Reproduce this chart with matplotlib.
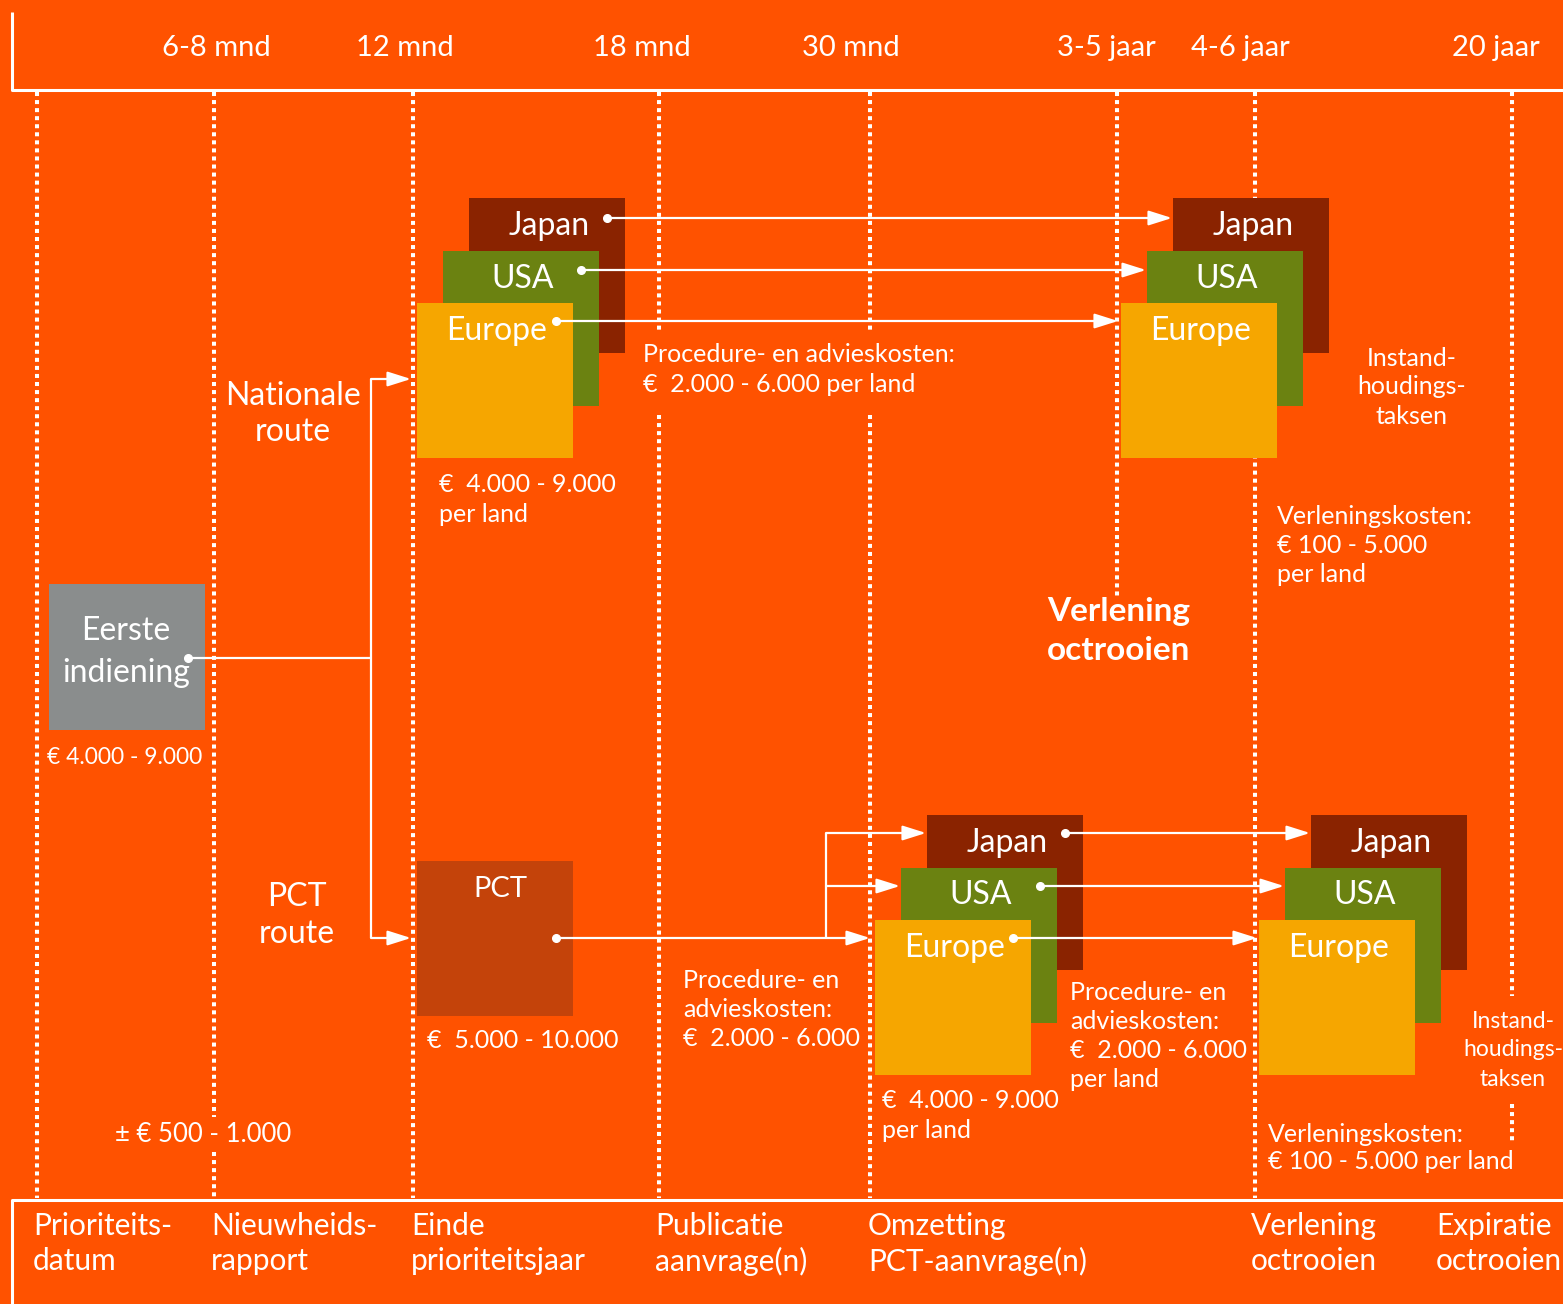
import matplotlib
matplotlib.use("Agg")
import matplotlib.pyplot as plt
from matplotlib.patches import Rectangle

plt.rcParams['font.family'] = ['Lato', 'DejaVu Sans']

# ---- data ----
periods = ["6-8 mnd", "12 mnd", "18 mnd", "30 mnd", "3-5 jaar", "4-6 jaar", "20 jaar"]
milestones = ["Prioriteits-\ndatum", "Nieuwheids-\nrapport", "Einde\nprioriteitsjaar",
              "Publicatie\naanvrage(n)", "Omzetting\nPCT-aanvrage(n)",
              "Verlening\noctrooien", "Expiratie\noctrooien"]
countries = ["Japan", "USA", "Europe"]
routes = ["Nationale\nroute", "PCT\nroute"]
cost_first = "€ 4.000 - 9.000"
cost_search = "± € 500 - 1.000"
cost_nat_filing = "€  4.000 - 9.000\nper land"
cost_nat_proc = "Procedure- en advieskosten:\n€  2.000 - 6.000 per land"
cost_pct_filing = "€  5.000 - 10.000"
cost_pct_proc = "Procedure- en\nadvieskosten:\n€  2.000 - 6.000"
cost_pct_nat = "€  4.000 - 9.000\nper land"
cost_pct_nat_proc = "Procedure- en\nadvieskosten:\n€  2.000 - 6.000\nper land"
cost_grant_nat = "Verleningskosten:\n€ 100 - 5.000\nper land"
cost_grant_pct = "Verleningskosten:\n€ 100 - 5.000 per land"
maint = "Instand-\nhoudings-\ntaksen"

# ---- style ----
BG = '#FF5200'
COL = {"Japan": '#8A2300', "USA": '#6B8211', "Europe": '#F6A600'}
GREY = '#8A8D8D'
PCTC = '#C4430A'
W = 'white'

fig = plt.figure(figsize=(15.63, 13.04), dpi=100, facecolor=BG)
ax = fig.add_axes([0, 0, 1, 1])
ax.set_xlim(0, 1563)
ax.set_ylim(1304, 0)
ax.axis('off')
ax.set_facecolor(BG)


def lines_text(x, y, s, dy, size, ha='left', weight='normal', **kw):
    for i, ln in enumerate(s.split('\n')):
        ax.text(x, y + i * dy, ln, color=W, fontsize=size, ha=ha, va='center',
                fontweight=weight, **kw)


# frames
ax.plot([12, 12, 1563], [12, 90, 90], color=W, lw=2.2, solid_capstyle='butt')
ax.plot([1563, 12, 12], [1200, 1200, 1304], color=W, lw=2.2, solid_capstyle='butt')

# dotted timeline columns (x, list of visible segments)
cols = [
    (37, [(92, 1198)]),
    (214, [(92, 1117), (1152, 1198)]),
    (413, [(92, 1198)]),
    (659, [(92, 330), (415, 1198)]),
    (870, [(92, 330), (415, 1198)]),
    (1117, [(92, 597)]),
    (1255, [(92, 1198)]),
    (1512, [(92, 996), (1104, 1141)]),
]
for x, segs in cols:
    for y0, y1 in segs:
        ax.plot([x, x], [y0, y1], color=W, lw=2.9, linestyle=(0, (1, 1)),
                dash_capstyle='butt', zorder=1)

# period labels on top
period_x = [216, 405, 642, 851, 1106, 1240, 1496]
for x, p in zip(period_x, periods):
    ax.text(x, 48, p, color=W, fontsize=21, ha='center', va='center')

# milestone labels at bottom
mile_x = [33, 211, 411, 655, 868, 1251, 1436]
for x, m in zip(mile_x, milestones):
    lines_text(x, 1226, m, 35, 21.5)

# boxes
def stack(x, y, zorder=3):
    # x, y: top-left of the Europe box; other boxes offset up/right
    for i, c in enumerate(countries):
        k = 2 - i
        bx, by = x + 26 * k, y - 52.5 * k
        ax.add_patch(Rectangle((bx, by), 156, 155, facecolor=COL[c],
                               edgecolor='none', zorder=zorder + i))
        ax.text(bx + 80, by + 28, c, color=W, fontsize=23, ha='center',
                va='center', zorder=zorder + i + 0.5)

stack(417, 303)
stack(1121, 303)
stack(875, 920)
stack(1259, 920)

ax.add_patch(Rectangle((49, 584), 156, 146, facecolor=GREY, edgecolor='none', zorder=3))
lines_text(126, 631, "Eerste\nindiening", 42, 23, ha='center', zorder=4)
ax.add_patch(Rectangle((417, 861), 156, 155, facecolor=PCTC, edgecolor='none', zorder=3))
ax.text(500, 889, "PCT", color=W, fontsize=21, ha='center', va='center', zorder=4)


# connectors
def arrow(x0, y0, x1, y1, dot=True):
    ax.annotate('', xy=(x1, y1), xytext=(x0, y0),
                arrowprops=dict(arrowstyle='-|>,head_length=0.95,head_width=0.3',
                                color=W, lw=1.6, shrinkA=0, shrinkB=0,
                                mutation_scale=15), zorder=8)
    if dot:
        ax.plot(x0, y0, 'o', color=W, ms=5.5, zorder=9)


def seg(xs, ys):
    ax.plot(xs, ys, color=W, lw=1.6, zorder=8, solid_capstyle='butt')


# first filing split
seg([188, 371], [658, 658])
ax.plot(188, 658, 'o', color=W, ms=5.5, zorder=9)
seg([371, 371], [379, 938])
arrow(371, 379, 411, 379, dot=False)
arrow(371, 938, 411, 938, dot=False)

# national route to grant
arrow(607, 218, 1172, 218)
arrow(581, 270, 1146, 270)
arrow(556, 321, 1118, 321)

# PCT route
arrow(556, 938, 870, 938)
seg([826, 826], [833, 938])
arrow(826, 833, 926, 833, dot=False)
arrow(826, 886, 900, 886, dot=False)
arrow(1065, 833, 1310, 833)
arrow(1040, 886, 1284, 886)
arrow(1013, 938, 1257, 938)

# route labels
lines_text(293, 396, routes[0], 36, 23, ha='center')
lines_text(297, 897, routes[1], 37, 23, ha='center')

# cost texts
CS = 18
ax.text(47, 757, cost_first, color=W, fontsize=16.5, va='center')
ax.text(115, 1135, cost_search, color=W, fontsize=18.5, va='center')
lines_text(439, 485, cost_nat_filing, 29, CS)
lines_text(643, 355, cost_nat_proc, 30, CS)
ax.text(427, 1041, cost_pct_filing, color=W, fontsize=CS, va='center')
lines_text(683, 980, cost_pct_proc, 29.5, CS)
lines_text(882, 1101, cost_pct_nat, 29, CS)
lines_text(1070, 992, cost_pct_nat_proc, 29.3, CS)
lines_text(1412, 358, maint, 29, CS, ha='center')
lines_text(1277, 517, cost_grant_nat, 28.5, CS)
lines_text(1513, 1021, maint, 29, 16.5, ha='center')
lines_text(1268, 1134, cost_grant_pct, 27.5, CS)
lines_text(1047, 612, "Verlening\noctrooien", 38, 24, weight='bold')

fig.savefig('out.png', dpi=100, facecolor=BG)
